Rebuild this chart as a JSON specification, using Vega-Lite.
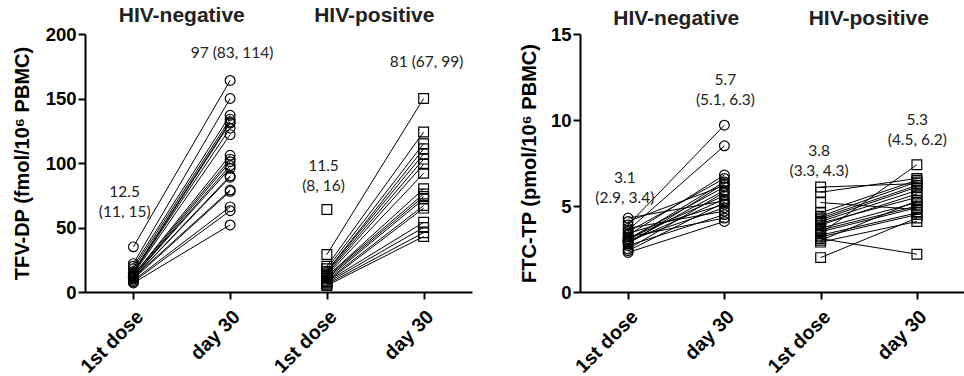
{
  "$schema": "https://vega.github.io/schema/vega-lite/v6.json",
  "padding": {"left": 12, "top": 4, "right": 0, "bottom": 0},
  "config": {
    "view": {"stroke": null},
    "font": "Liberation Sans",
    "axis": {
      "domainColor": "#000", "domainWidth": 2, "tickColor": "#000", "tickWidth": 2, "tickSize": 7,
      "labelFont": "Liberation Sans", "labelFontWeight": "bold", "labelFontSize": 18.5, "labelColor": "#000",
      "titleFont": "Liberation Sans", "titleFontWeight": "bold", "titleFontSize": 20, "titleColor": "#000",
      "grid": false
    },
    "axisX": {"labelFontSize": 19.5}
  },
  "datasets": {
    "tfv": [
      {"id": "n1", "g": "HIV-negative", "t": 0, "v": 35}, {"id": "n1", "g": "HIV-negative", "t": 1, "v": 164},
      {"id": "n2", "g": "HIV-negative", "t": 0, "v": 22}, {"id": "n2", "g": "HIV-negative", "t": 1, "v": 150},
      {"id": "n3", "g": "HIV-negative", "t": 0, "v": 20}, {"id": "n3", "g": "HIV-negative", "t": 1, "v": 137},
      {"id": "n4", "g": "HIV-negative", "t": 0, "v": 18}, {"id": "n4", "g": "HIV-negative", "t": 1, "v": 134},
      {"id": "n5", "g": "HIV-negative", "t": 0, "v": 16}, {"id": "n5", "g": "HIV-negative", "t": 1, "v": 132},
      {"id": "n6", "g": "HIV-negative", "t": 0, "v": 15}, {"id": "n6", "g": "HIV-negative", "t": 1, "v": 131},
      {"id": "n7", "g": "HIV-negative", "t": 0, "v": 15}, {"id": "n7", "g": "HIV-negative", "t": 1, "v": 127},
      {"id": "n8", "g": "HIV-negative", "t": 0, "v": 14}, {"id": "n8", "g": "HIV-negative", "t": 1, "v": 122},
      {"id": "n9", "g": "HIV-negative", "t": 0, "v": 13}, {"id": "n9", "g": "HIV-negative", "t": 1, "v": 106},
      {"id": "n10", "g": "HIV-negative", "t": 0, "v": 13}, {"id": "n10", "g": "HIV-negative", "t": 1, "v": 103},
      {"id": "n11", "g": "HIV-negative", "t": 0, "v": 12}, {"id": "n11", "g": "HIV-negative", "t": 1, "v": 101},
      {"id": "n12", "g": "HIV-negative", "t": 0, "v": 12}, {"id": "n12", "g": "HIV-negative", "t": 1, "v": 98},
      {"id": "n13", "g": "HIV-negative", "t": 0, "v": 12}, {"id": "n13", "g": "HIV-negative", "t": 1, "v": 96},
      {"id": "n14", "g": "HIV-negative", "t": 0, "v": 11}, {"id": "n14", "g": "HIV-negative", "t": 1, "v": 90},
      {"id": "n15", "g": "HIV-negative", "t": 0, "v": 11}, {"id": "n15", "g": "HIV-negative", "t": 1, "v": 89},
      {"id": "n16", "g": "HIV-negative", "t": 0, "v": 11}, {"id": "n16", "g": "HIV-negative", "t": 1, "v": 79},
      {"id": "n17", "g": "HIV-negative", "t": 0, "v": 10}, {"id": "n17", "g": "HIV-negative", "t": 1, "v": 78},
      {"id": "n18", "g": "HIV-negative", "t": 0, "v": 9}, {"id": "n18", "g": "HIV-negative", "t": 1, "v": 66},
      {"id": "n19", "g": "HIV-negative", "t": 0, "v": 8}, {"id": "n19", "g": "HIV-negative", "t": 1, "v": 63},
      {"id": "n20", "g": "HIV-negative", "t": 0, "v": 7}, {"id": "n20", "g": "HIV-negative", "t": 1, "v": 52},
      {"id": "p0", "g": "HIV-positive", "t": 2, "v": 64},
      {"id": "p1", "g": "HIV-positive", "t": 2, "v": 29}, {"id": "p1", "g": "HIV-positive", "t": 3, "v": 150},
      {"id": "p2", "g": "HIV-positive", "t": 2, "v": 20}, {"id": "p2", "g": "HIV-positive", "t": 3, "v": 124},
      {"id": "p3", "g": "HIV-positive", "t": 2, "v": 18}, {"id": "p3", "g": "HIV-positive", "t": 3, "v": 115},
      {"id": "p4", "g": "HIV-positive", "t": 2, "v": 16}, {"id": "p4", "g": "HIV-positive", "t": 3, "v": 111},
      {"id": "p5", "g": "HIV-positive", "t": 2, "v": 16}, {"id": "p5", "g": "HIV-positive", "t": 3, "v": 107},
      {"id": "p6", "g": "HIV-positive", "t": 2, "v": 15}, {"id": "p6", "g": "HIV-positive", "t": 3, "v": 103},
      {"id": "p7", "g": "HIV-positive", "t": 2, "v": 14}, {"id": "p7", "g": "HIV-positive", "t": 3, "v": 99},
      {"id": "p8", "g": "HIV-positive", "t": 2, "v": 13}, {"id": "p8", "g": "HIV-positive", "t": 3, "v": 92},
      {"id": "p9", "g": "HIV-positive", "t": 2, "v": 12}, {"id": "p9", "g": "HIV-positive", "t": 3, "v": 80},
      {"id": "p10", "g": "HIV-positive", "t": 2, "v": 12}, {"id": "p10", "g": "HIV-positive", "t": 3, "v": 76},
      {"id": "p11", "g": "HIV-positive", "t": 2, "v": 11}, {"id": "p11", "g": "HIV-positive", "t": 3, "v": 74},
      {"id": "p12", "g": "HIV-positive", "t": 2, "v": 10}, {"id": "p12", "g": "HIV-positive", "t": 3, "v": 72},
      {"id": "p13", "g": "HIV-positive", "t": 2, "v": 9}, {"id": "p13", "g": "HIV-positive", "t": 3, "v": 67},
      {"id": "p14", "g": "HIV-positive", "t": 2, "v": 8}, {"id": "p14", "g": "HIV-positive", "t": 3, "v": 65},
      {"id": "p15", "g": "HIV-positive", "t": 2, "v": 8}, {"id": "p15", "g": "HIV-positive", "t": 3, "v": 54},
      {"id": "p16", "g": "HIV-positive", "t": 2, "v": 7}, {"id": "p16", "g": "HIV-positive", "t": 3, "v": 50},
      {"id": "p17", "g": "HIV-positive", "t": 2, "v": 6}, {"id": "p17", "g": "HIV-positive", "t": 3, "v": 46},
      {"id": "p18", "g": "HIV-positive", "t": 2, "v": 5}, {"id": "p18", "g": "HIV-positive", "t": 3, "v": 43}
    ],
    "ftc": [
      {"id": "n1", "g": "HIV-negative", "t": 0, "v": 4.3}, {"id": "n1", "g": "HIV-negative", "t": 1, "v": 5.3},
      {"id": "n2", "g": "HIV-negative", "t": 0, "v": 4.1}, {"id": "n2", "g": "HIV-negative", "t": 1, "v": 6.2},
      {"id": "n3", "g": "HIV-negative", "t": 0, "v": 3.9}, {"id": "n3", "g": "HIV-negative", "t": 1, "v": 9.7},
      {"id": "n4", "g": "HIV-negative", "t": 0, "v": 3.7}, {"id": "n4", "g": "HIV-negative", "t": 1, "v": 4.7},
      {"id": "n5", "g": "HIV-negative", "t": 0, "v": 3.6}, {"id": "n5", "g": "HIV-negative", "t": 1, "v": 8.5},
      {"id": "n6", "g": "HIV-negative", "t": 0, "v": 3.5}, {"id": "n6", "g": "HIV-negative", "t": 1, "v": 6.6},
      {"id": "n7", "g": "HIV-negative", "t": 0, "v": 3.4}, {"id": "n7", "g": "HIV-negative", "t": 1, "v": 5.1},
      {"id": "n8", "g": "HIV-negative", "t": 0, "v": 3.3}, {"id": "n8", "g": "HIV-negative", "t": 1, "v": 6.8},
      {"id": "n9", "g": "HIV-negative", "t": 0, "v": 3.2}, {"id": "n9", "g": "HIV-negative", "t": 1, "v": 4.3},
      {"id": "n10", "g": "HIV-negative", "t": 0, "v": 3.1}, {"id": "n10", "g": "HIV-negative", "t": 1, "v": 6.1},
      {"id": "n11", "g": "HIV-negative", "t": 0, "v": 3.1}, {"id": "n11", "g": "HIV-negative", "t": 1, "v": 5.6},
      {"id": "n12", "g": "HIV-negative", "t": 0, "v": 3.0}, {"id": "n12", "g": "HIV-negative", "t": 1, "v": 6.4},
      {"id": "n13", "g": "HIV-negative", "t": 0, "v": 3.0}, {"id": "n13", "g": "HIV-negative", "t": 1, "v": 4.9},
      {"id": "n14", "g": "HIV-negative", "t": 0, "v": 2.9}, {"id": "n14", "g": "HIV-negative", "t": 1, "v": 5.9},
      {"id": "n15", "g": "HIV-negative", "t": 0, "v": 2.9}, {"id": "n15", "g": "HIV-negative", "t": 1, "v": 5.4},
      {"id": "n16", "g": "HIV-negative", "t": 0, "v": 2.8}, {"id": "n16", "g": "HIV-negative", "t": 1, "v": 6.3},
      {"id": "n17", "g": "HIV-negative", "t": 0, "v": 2.7}, {"id": "n17", "g": "HIV-negative", "t": 1, "v": 4.5},
      {"id": "n18", "g": "HIV-negative", "t": 0, "v": 2.5}, {"id": "n18", "g": "HIV-negative", "t": 1, "v": 5.8},
      {"id": "n19", "g": "HIV-negative", "t": 0, "v": 2.4}, {"id": "n19", "g": "HIV-negative", "t": 1, "v": 5.2},
      {"id": "n20", "g": "HIV-negative", "t": 0, "v": 2.3}, {"id": "n20", "g": "HIV-negative", "t": 1, "v": 4.1},
      {"id": "p1", "g": "HIV-positive", "t": 2, "v": 6.1}, {"id": "p1", "g": "HIV-positive", "t": 3, "v": 6.3},
      {"id": "p2", "g": "HIV-positive", "t": 2, "v": 5.8}, {"id": "p2", "g": "HIV-positive", "t": 3, "v": 6.6},
      {"id": "p3", "g": "HIV-positive", "t": 2, "v": 5.2}, {"id": "p3", "g": "HIV-positive", "t": 3, "v": 4.8},
      {"id": "p4", "g": "HIV-positive", "t": 2, "v": 4.6}, {"id": "p4", "g": "HIV-positive", "t": 3, "v": 6.5},
      {"id": "p5", "g": "HIV-positive", "t": 2, "v": 4.4}, {"id": "p5", "g": "HIV-positive", "t": 3, "v": 6.4},
      {"id": "p6", "g": "HIV-positive", "t": 2, "v": 4.3}, {"id": "p6", "g": "HIV-positive", "t": 3, "v": 6.2},
      {"id": "p7", "g": "HIV-positive", "t": 2, "v": 4.2}, {"id": "p7", "g": "HIV-positive", "t": 3, "v": 6.1},
      {"id": "p8", "g": "HIV-positive", "t": 2, "v": 4.1}, {"id": "p8", "g": "HIV-positive", "t": 3, "v": 5.9},
      {"id": "p9", "g": "HIV-positive", "t": 2, "v": 4.0}, {"id": "p9", "g": "HIV-positive", "t": 3, "v": 5.5},
      {"id": "p10", "g": "HIV-positive", "t": 2, "v": 3.9}, {"id": "p10", "g": "HIV-positive", "t": 3, "v": 5.7},
      {"id": "p11", "g": "HIV-positive", "t": 2, "v": 3.7}, {"id": "p11", "g": "HIV-positive", "t": 3, "v": 5.2},
      {"id": "p12", "g": "HIV-positive", "t": 2, "v": 3.6}, {"id": "p12", "g": "HIV-positive", "t": 3, "v": 5.0},
      {"id": "p13", "g": "HIV-positive", "t": 2, "v": 3.5}, {"id": "p13", "g": "HIV-positive", "t": 3, "v": 4.9},
      {"id": "p14", "g": "HIV-positive", "t": 2, "v": 3.4}, {"id": "p14", "g": "HIV-positive", "t": 3, "v": 7.4},
      {"id": "p15", "g": "HIV-positive", "t": 2, "v": 3.3}, {"id": "p15", "g": "HIV-positive", "t": 3, "v": 4.6},
      {"id": "p16", "g": "HIV-positive", "t": 2, "v": 3.2}, {"id": "p16", "g": "HIV-positive", "t": 3, "v": 4.5},
      {"id": "p17", "g": "HIV-positive", "t": 2, "v": 3.1}, {"id": "p17", "g": "HIV-positive", "t": 3, "v": 2.2},
      {"id": "p18", "g": "HIV-positive", "t": 2, "v": 3.0}, {"id": "p18", "g": "HIV-positive", "t": 3, "v": 5.3},
      {"id": "p19", "g": "HIV-positive", "t": 2, "v": 2.9}, {"id": "p19", "g": "HIV-positive", "t": 3, "v": 4.1},
      {"id": "p20", "g": "HIV-positive", "t": 2, "v": 2.0}, {"id": "p20", "g": "HIV-positive", "t": 3, "v": 4.3}
    ]
  },
  "spacing": 47,
  "hconcat": [
    {
      "width": 387, "height": 258,
      "layer": [
        {
          "data": {"name": "tfv"},
          "mark": {"type": "line", "color": "#000", "strokeWidth": 1},
          "encoding": {
            "x": {"field": "t", "type": "quantitative", "scale": {"domain": [-0.5, 3.5], "nice": false, "zero": false},
                  "axis": {"values": [0, 1, 2, 3], "labelExpr": "datum.value % 2 == 0 ? '1st dose' : 'day 30'", "labelAngle": -45, "title": null, "labelPadding": 8}},
            "y": {"field": "v", "type": "quantitative", "scale": {"domain": [0, 200], "nice": false},
                  "axis": {"values": [0, 50, 100, 150, 200], "title": "TFV-DP (fmol/10⁶ PBMC)", "labelPadding": 2, "titlePadding": 13}},
            "detail": {"field": "id"}
          }
        },
        {
          "data": {"name": "tfv"},
          "mark": {"type": "point", "filled": false, "color": "#000", "strokeWidth": 1.2, "size": 95, "opacity": 1},
          "encoding": {
            "x": {"field": "t", "type": "quantitative"},
            "y": {"field": "v", "type": "quantitative"},
            "shape": {"field": "g", "type": "nominal", "scale": {"domain": ["HIV-negative", "HIV-positive"], "range": ["circle", "square"]}, "legend": null}
          }
        },
        {
          "data": {"values": [
            {"x": -0.09, "y": 77.7, "label": "12.5\n(11, 15)"},
            {"x": 1.02, "y": 185.5, "label": "97 (83, 114)"},
            {"x": 1.965, "y": 97.9, "label": "11.5\n(8, 16)"},
            {"x": 3.03, "y": 178.5, "label": "81 (67, 99)"}
          ]},
          "mark": {"type": "text", "font": "Lato", "fontSize": 15.5, "lineBreak": "\n", "lineHeight": 20, "color": "#222", "baseline": "middle"},
          "encoding": {
            "x": {"field": "x", "type": "quantitative"},
            "y": {"field": "y", "type": "quantitative"},
            "text": {"field": "label"}
          }
        },
        {
          "data": {"values": [
            {"x": 0.5, "y": 214, "label": "HIV-negative"},
            {"x": 2.49, "y": 214, "label": "HIV-positive"}
          ]},
          "mark": {"type": "text", "font": "Liberation Sans", "fontWeight": "bold", "fontSize": 21, "color": "#222", "baseline": "middle"},
          "encoding": {
            "x": {"field": "x", "type": "quantitative"},
            "y": {"field": "y", "type": "quantitative"},
            "text": {"field": "label"}
          }
        }
      ]
    },
    {
      "width": 385, "height": 258,
      "layer": [
        {
          "data": {"name": "ftc"},
          "mark": {"type": "line", "color": "#000", "strokeWidth": 1},
          "encoding": {
            "x": {"field": "t", "type": "quantitative", "scale": {"domain": [-0.5, 3.5], "nice": false, "zero": false},
                  "axis": {"values": [0, 1, 2, 3], "labelExpr": "datum.value % 2 == 0 ? '1st dose' : 'day 30'", "labelAngle": -45, "title": null, "labelPadding": 8}},
            "y": {"field": "v", "type": "quantitative", "scale": {"domain": [0, 15], "nice": false},
                  "axis": {"values": [0, 5, 10, 15], "title": "FTC-TP (pmol/10⁶ PBMC)", "labelPadding": 2, "titlePadding": 11}},
            "detail": {"field": "id"}
          }
        },
        {
          "data": {"name": "ftc"},
          "mark": {"type": "point", "filled": false, "color": "#000", "strokeWidth": 1.2, "size": 95, "opacity": 1},
          "encoding": {
            "x": {"field": "t", "type": "quantitative"},
            "y": {"field": "v", "type": "quantitative"},
            "shape": {"field": "g", "type": "nominal", "scale": {"domain": ["HIV-negative", "HIV-positive"], "range": ["circle", "square"]}, "legend": null}
          }
        },
        {
          "data": {"values": [
            {"x": -0.034, "y": 6.65, "label": "3.1\n(2.9, 3.4)"},
            {"x": 1.011, "y": 12.35, "label": "5.7\n(5.1, 6.3)"},
            {"x": 1.984, "y": 8.19, "label": "3.8\n(3.3, 4.3)"},
            {"x": 3.004, "y": 10.02, "label": "5.3\n(4.5, 6.2)"}
          ]},
          "mark": {"type": "text", "font": "Lato", "fontSize": 15.5, "lineBreak": "\n", "lineHeight": 20, "color": "#222", "baseline": "middle"},
          "encoding": {
            "x": {"field": "x", "type": "quantitative"},
            "y": {"field": "y", "type": "quantitative"},
            "text": {"field": "label"}
          }
        },
        {
          "data": {"values": [
            {"x": 0.5, "y": 15.9, "label": "HIV-negative"},
            {"x": 2.5, "y": 15.9, "label": "HIV-positive"}
          ]},
          "mark": {"type": "text", "font": "Liberation Sans", "fontWeight": "bold", "fontSize": 21, "color": "#222", "baseline": "middle"},
          "encoding": {
            "x": {"field": "x", "type": "quantitative"},
            "y": {"field": "y", "type": "quantitative"},
            "text": {"field": "label"}
          }
        }
      ]
    }
  ]
}
